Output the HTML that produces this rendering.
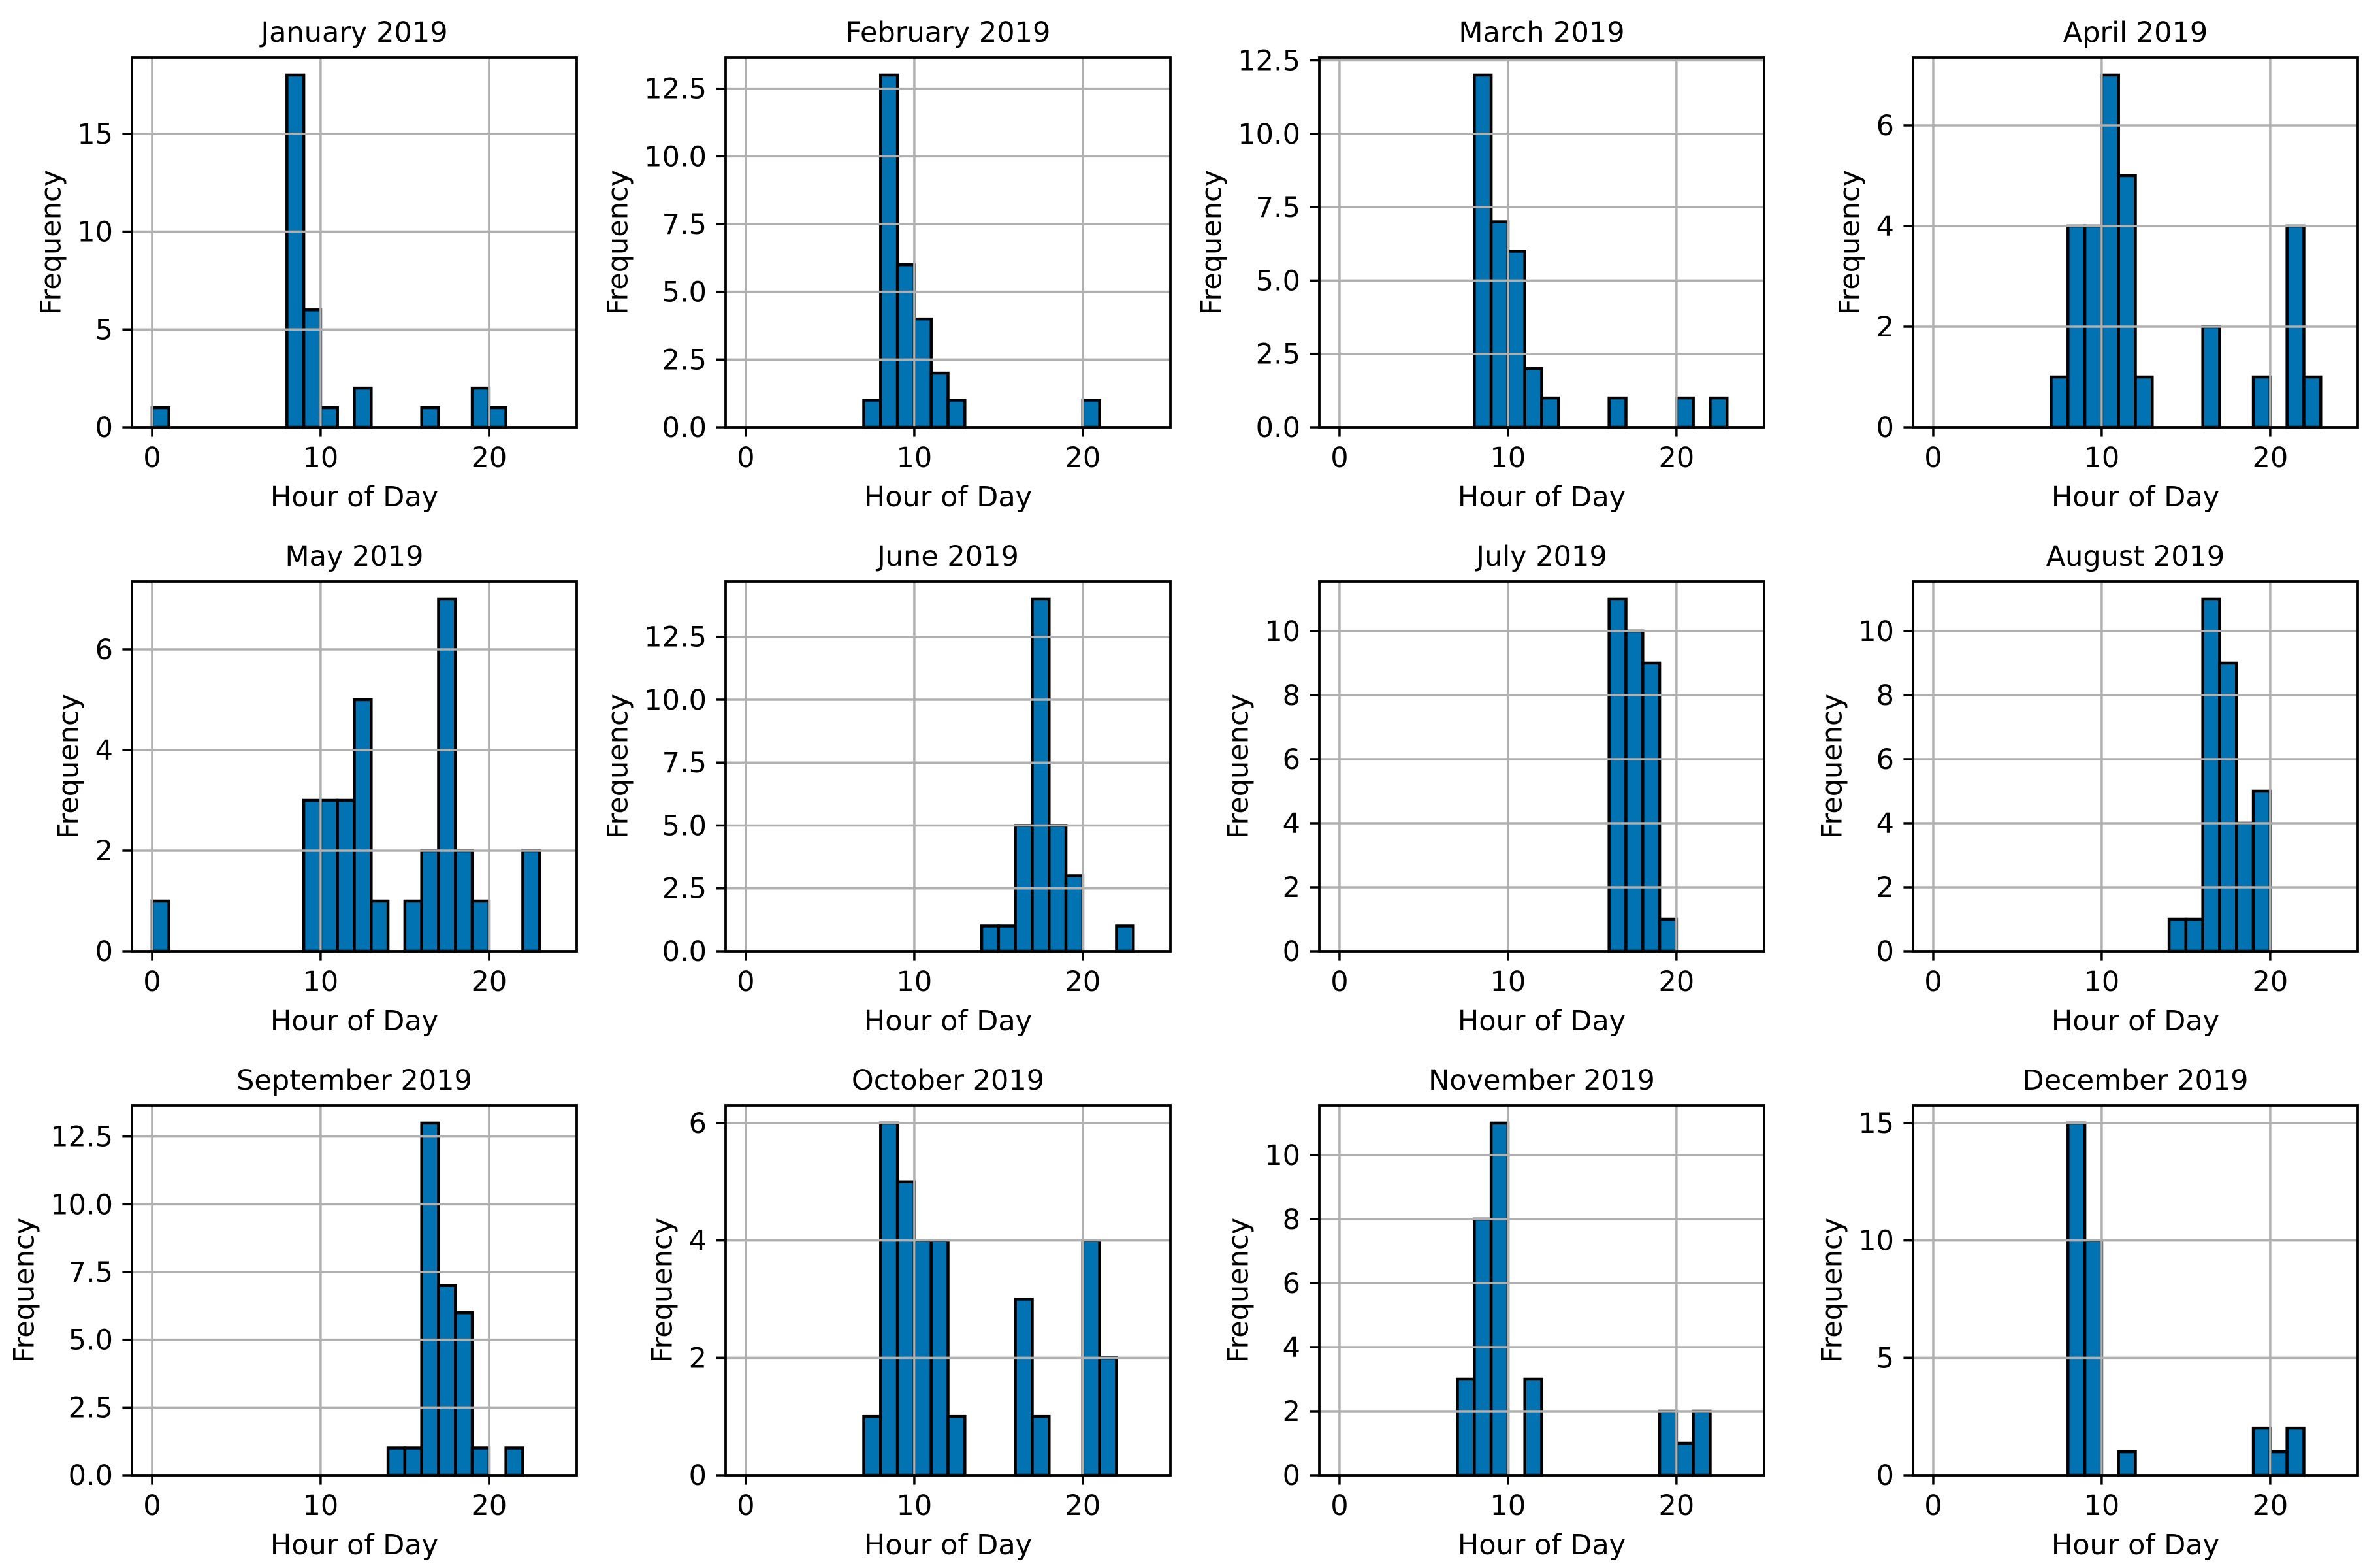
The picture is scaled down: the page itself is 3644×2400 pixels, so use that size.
<!DOCTYPE html>
<html><head><meta charset="utf-8"><style>
html,body{margin:0;padding:0;background:#fff;}
svg{display:block;}
text{font-family:"DejaVu Sans","Liberation Sans",sans-serif;fill:#000;}
</style></head><body>
<svg id="chart" xmlns="http://www.w3.org/2000/svg" width="3644" height="2400" viewBox="0 0 3644 2400">
<rect x="0" y="0" width="3644" height="2400" fill="#fff"/>
</svg>
<script>
const months = ["January 2019","February 2019","March 2019","April 2019","May 2019","June 2019","July 2019","August 2019","September 2019","October 2019","November 2019","December 2019"];
const hours = [0,1,2,3,4,5,6,7,8,9,10,11,12,13,14,15,16,17,18,19,20,21,22,23];
const janCounts = [1,0,0,0,0,0,0,0,18,6,1,0,2,0,0,0,1,0,0,2,1,0,0,0];
const febCounts = [0,0,0,0,0,0,0,1,13,6,4,2,1,0,0,0,0,0,0,0,1,0,0,0];
const marCounts = [0,0,0,0,0,0,0,0,12,7,6,2,1,0,0,0,1,0,0,0,1,0,1,0];
const aprCounts = [0,0,0,0,0,0,0,1,4,4,7,5,1,0,0,0,2,0,0,1,0,4,1,0];
const mayCounts = [1,0,0,0,0,0,0,0,0,3,3,3,5,1,0,1,2,7,2,1,0,0,2,0];
const junCounts = [0,0,0,0,0,0,0,0,0,0,0,0,0,0,1,1,5,14,5,3,0,0,1,0];
const julCounts = [0,0,0,0,0,0,0,0,0,0,0,0,0,0,0,0,11,10,9,1,0,0,0,0];
const augCounts = [0,0,0,0,0,0,0,0,0,0,0,0,0,0,1,1,11,9,4,5,0,0,0,0];
const sepCounts = [0,0,0,0,0,0,0,0,0,0,0,0,0,0,1,1,13,7,6,1,0,1,0,0];
const octCounts = [0,0,0,0,0,0,0,1,6,5,4,4,1,0,0,0,3,1,0,0,4,2,0,0];
const novCounts = [0,0,0,0,0,0,0,3,8,11,0,3,0,0,0,0,0,0,0,2,1,2,0,0];
const decCounts = [0,0,0,0,0,0,0,0,15,10,0,1,0,0,0,0,0,0,0,2,1,2,0,0];
const allCounts = [janCounts,febCounts,marCounts,aprCounts,mayCounts,junCounts,julCounts,augCounts,sepCounts,octCounts,novCounts,decCounts];
const xTicks = [0,10,20];
const yTickSteps = [5,2.5,2.5,2,2,2.5,2,2,2.5,2,2,5];
const yTickDecimals = [0,1,1,0,0,1,0,0,1,0,0,0];

const NS = "http://www.w3.org/2000/svg";
const svg = document.getElementById('chart');
const AX_L0 = 202, AX_DX = 909, AX_W = 681, AX_T0 = 88, AX_DY = 802, AX_H = 566;
const XMIN = -1.2, XMAX = 25.2;
const FS = 43;
function mk(tag, attrs, parent){const e=document.createElementNS(NS,tag);for(const k in attrs)e.setAttribute(k,attrs[k]);(parent||svg).appendChild(e);return e;}

months.forEach((m, i) => {
  const counts = allCounts[i];
  const col = i % 4, row = Math.floor(i / 4);
  const L = AX_L0 + col * AX_DX, T = AX_T0 + row * AX_DY, B = T + AX_H, R = L + AX_W;
  const ymax = Math.max(...counts) * 1.05;
  const sx = v => L + (v - XMIN) / (XMAX - XMIN) * AX_W;
  const sy = v => B - v / ymax * AX_H;
  const g = mk('g', {});
  
  

  const title = mk('text', {x: (L + R) / 2, y: T - 24, 'font-size': FS, 'text-anchor': 'middle'}, g);
  title.textContent = m;
  
  

  hours.forEach((h, k) => {
    const c = counts[k];
    const r = mk('rect', {x: sx(h), y: sy(c), width: sx(h + 1) - sx(h), height: B - sy(c), fill: '#0173b2', stroke: '#000', 'stroke-width': 4.5}, g);
    
    
  });

  xTicks.forEach(t => {
    const l = mk('line', {x1: sx(t), x2: sx(t), y1: T, y2: B, stroke: '#b0b0b0', 'stroke-width': 3.5}, g);
    
    
  });
  const step = yTickSteps[i];
  const yt = [];
  for (let v = 0; v <= ymax + 1e-9; v += step) yt.push(v);
  yt.forEach(v => {
    const l = mk('line', {x1: L, x2: R, y1: sy(v), y2: sy(v), stroke: '#b0b0b0', 'stroke-width': 3.5}, g);
    
    
  });

  const fr = mk('rect', {x: L, y: T, width: AX_W, height: AX_H, fill: 'none', stroke: '#000', 'stroke-width': 3.8}, g);
  
  

  xTicks.forEach(t => {
    mk('line', {x1: sx(t), x2: sx(t), y1: B, y2: B + 14.6, stroke: '#000', 'stroke-width': 3.5}, g);
    const tl = mk('text', {x: sx(t), y: B + 61, 'font-size': FS, 'text-anchor': 'middle'}, g);
    tl.textContent = String(t);
    
    
  });
  let maxW = 0;
  yt.forEach(v => {
    mk('line', {x1: L - 14.6, x2: L, y1: sy(v), y2: sy(v), stroke: '#000', 'stroke-width': 3.5}, g);
    const tl = mk('text', {x: L - 29, y: sy(v) + 15, 'font-size': FS, 'text-anchor': 'end'}, g);
    tl.textContent = v.toFixed(yTickDecimals[i]);
    
    
    maxW = Math.max(maxW, tl.getComputedTextLength());
  });

  const xl = mk('text', {x: (L + R) / 2, y: B + 121, 'font-size': FS, 'text-anchor': 'middle'}, g);
  xl.textContent = 'Hour of Day';
  
  

  const yx = L - 29 - maxW - 26;
  const yl = mk('text', {x: yx, y: (T + B) / 2, 'font-size': FS, 'text-anchor': 'middle', transform: 'rotate(-90 ' + yx + ' ' + ((T + B) / 2) + ')'}, g);
  yl.textContent = 'Frequency';
  
  
});
</script>
</body></html>
